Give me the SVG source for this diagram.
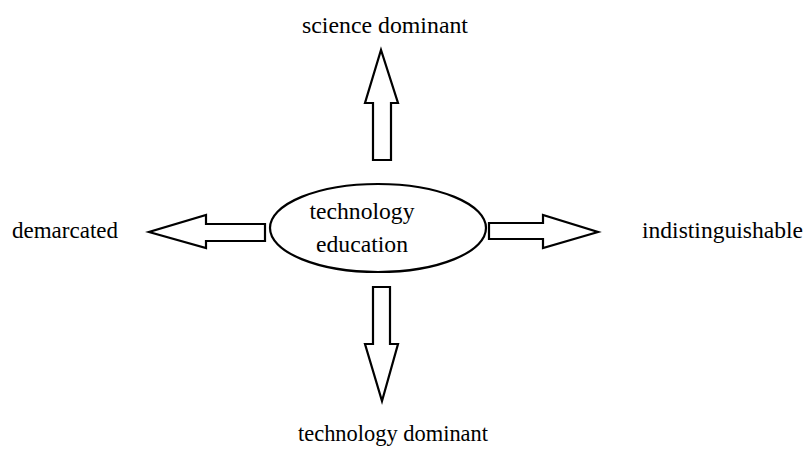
<svg xmlns="http://www.w3.org/2000/svg" width="808" height="452" viewBox="0 0 808 452">
<style>
.arrow{fill:#fff;stroke:#000;stroke-width:2.2;stroke-linejoin:miter}
.node{fill:#fff;stroke:#000;stroke-width:2.2}
text{font-family:"Liberation Serif","Times New Roman",serif;font-size:23px;fill:#000}
</style>
<rect width="808" height="452" fill="#fff"/>
<g id="connectors">
<polygon class="arrow" points="373,160 373,103 365,103 381,50 398,103 391,103 391,160"/>
<polygon class="arrow" points="373,287 390,287 390,344 398,344 382,401 365,344 373,344"/>
<polygon class="arrow" points="265,224 206,224 206,215 149,232 206,248 206,241 265,241"/>
<polygon class="arrow" points="489,223 543,223 543,215 598,232 543,248 543,239 489,239"/>
</g>
<g id="center">
<ellipse class="node" cx="378" cy="228" rx="108" ry="44"/>
<text x="362" y="219" text-anchor="middle" textLength="105" lengthAdjust="spacingAndGlyphs">technology</text>
<text x="362" y="252" text-anchor="middle" textLength="92" lengthAdjust="spacingAndGlyphs">education</text>
</g>
<g id="top"><text x="385" y="33" text-anchor="middle" textLength="166" lengthAdjust="spacingAndGlyphs">science dominant</text></g>
<g id="left"><text x="12" y="238" textLength="106" lengthAdjust="spacingAndGlyphs">demarcated</text></g>
<g id="right"><text x="642" y="238" textLength="161" lengthAdjust="spacingAndGlyphs">indistinguishable</text></g>
<g id="bottom"><text x="393" y="441" text-anchor="middle" textLength="190" lengthAdjust="spacingAndGlyphs">technology dominant</text></g>
</svg>
